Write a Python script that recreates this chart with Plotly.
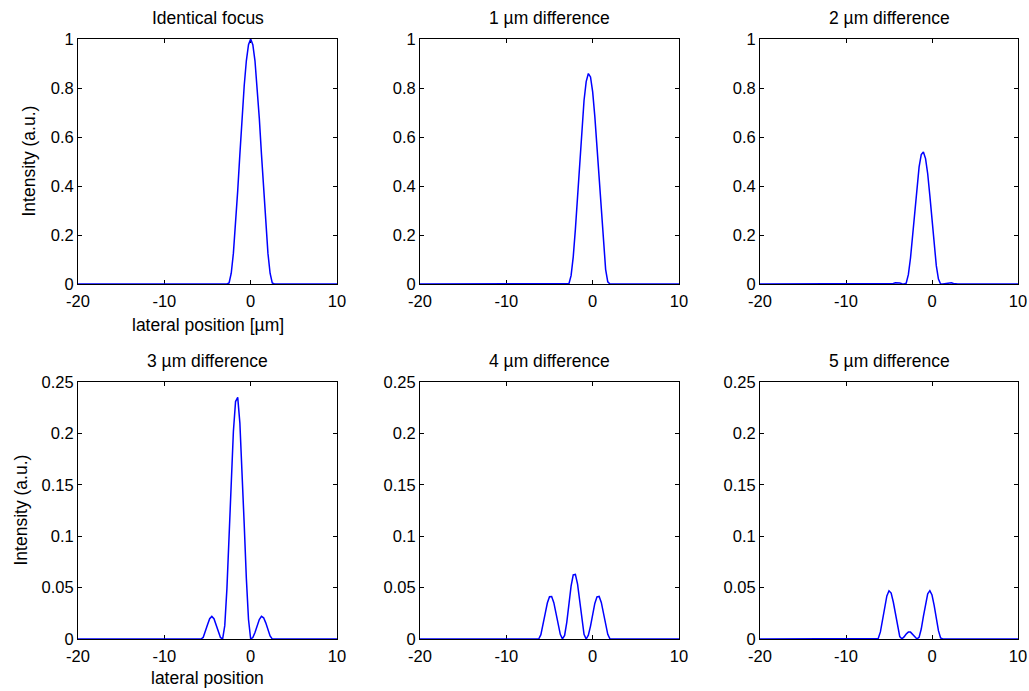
import plotly.graph_objects as go

# lateral position grid [µm]
x_pos = [-20, -7, -6.75, -6.5, -6.25, -6, -5.75, -5.5, -5.25, -5, -4.75, -4.5, -4.25, -4,
         -3.75, -3.5, -3.25, -3, -2.75, -2.5, -2.25, -2, -1.75, -1.5, -1.25, -1, -0.75,
         -0.5, -0.25, 0, 0.25, 0.5, 0.75, 1, 1.25, 1.5, 1.75, 2, 2.25, 2.5, 2.75, 3, 10]

y_identical = [0,
    0, 0, 0, 0, 0, 0, 0, 0, 0, 0, 0, 0, 0, 0, 0, 0, 0,
    0, 0.004, 0.044, 0.126, 0.241, 0.381, 0.530, 0.677, 0.808, 0.911, 0.977, 1.0,
    0.977, 0.911, 0.808, 0.677, 0.530, 0.381, 0.241, 0.126, 0.044, 0.004, 0, 0,
    0]

y_1um = [0,
    0, 0, 0, 0, 0, 0, 0, 0, 0, 0, 0, 0, 0, 0, 0, 0, 0,
    0.001, 0.034, 0.111, 0.224, 0.359, 0.502, 0.636, 0.749, 0.826, 0.859, 0.845, 0.784,
    0.684, 0.557, 0.415, 0.277, 0.153, 0.060, 0.009, 0, 0, 0, 0, 0,
    0]

y_2um = [0,
    0, 0, 0, 0, 0, 0, 0, 0, 0, 0,
    0.002, 0.005, 0.006, 0.004, 0.001, 0,
    0.003, 0.038, 0.106, 0.199, 0.301, 0.400, 0.478, 0.528, 0.539, 0.512, 0.450, 0.361,
    0.259, 0.160, 0.075, 0.020,
    0, 0, 0.001, 0.004, 0.006, 0.005, 0.002, 0, 0,
    0]

y_3um = [0,
    0, 0, 0, 0, 0, 0,
    0.0015, 0.0068, 0.0138, 0.0197, 0.022, 0.0197, 0.0138, 0.0068, 0.0015,
    0,
    0.013, 0.049, 0.101, 0.156, 0.202, 0.231, 0.235, 0.210, 0.166, 0.112, 0.059, 0.019,
    0,
    0.0014, 0.0063, 0.0131, 0.019, 0.022, 0.0206, 0.0157, 0.0089, 0.003,
    0, 0, 0,
    0]

y_4um = [0,
    0, 0, 0, 0,
    0.0042, 0.0133, 0.0247, 0.035, 0.0411, 0.0413, 0.0353, 0.0252, 0.0137, 0.0045, 0.0001,
    0.0035, 0.0162, 0.0343, 0.0515, 0.0623, 0.0629, 0.0533, 0.0365, 0.0183, 0.0046,
    0,
    0.0037, 0.0126, 0.024, 0.0346, 0.041, 0.0414, 0.0356, 0.0254, 0.0139, 0.0045, 0.0001,
    0, 0, 0, 0,
    0]

y_5um = [0,
    0, 0, 0,
    0.0006, 0.0069, 0.0183, 0.0313, 0.0419, 0.0469, 0.0447, 0.036, 0.0235, 0.011, 0.0023,
    0.0002, 0.002, 0.0048, 0.0067, 0.0067, 0.0047, 0.0019, 0.0001,
    0.0017, 0.0097, 0.022, 0.0346, 0.044, 0.047, 0.0428, 0.0328, 0.0198, 0.0081, 0.001,
    0, 0, 0, 0, 0, 0, 0, 0,
    0]

titles = ["Identical focus", "1 µm difference", "2 µm difference",
          "3 µm difference", "4 µm difference", "5 µm difference"]
series = [y_identical, y_1um, y_2um, y_3um, y_4um, y_5um]
y_ranges = [[0, 1], [0, 1], [0, 1], [0, 0.25], [0, 0.25], [0, 0.25]]
y_ticks = [[0, 0.2, 0.4, 0.6, 0.8, 1]] * 3 + [[0, 0.05, 0.1, 0.15, 0.2, 0.25]] * 3
y_ticktext = [["0", "0.2", "0.4", "0.6", "0.8", "1"]] * 3 + \
             [["0", "0.05", "0.1", "0.15", "0.2", "0.25"]] * 3
x_ticks = [-20, -10, 0, 10]
x_ticktext = ["-20", "-10", "0", "10"]

W, H = 1029, 691
col_px = [(78, 337), (420, 679), (760, 1018)]
row_px = [(39, 284), (382, 639)]

FONT = "Liberation Sans, Arial, sans-serif"
TICK_SIZE = 16.5
TEXT_SIZE = 17.5
fig = go.Figure()
annotations = []
for i in range(6):
    r, c = divmod(i, 3)
    n = "" if i == 0 else str(i + 1)
    xa, ya = "x" + n, "y" + n
    fig.add_trace(go.Scatter(x=x_pos, y=series[i], mode="lines",
                             line=dict(color="#0000ff", width=1.5),
                             xaxis=xa, yaxis=ya, showlegend=False,
                             hoverinfo="skip"))
    x0, x1 = col_px[c]
    y0, y1 = row_px[r]
    common = dict(showline=True, linecolor="black", linewidth=1, mirror="ticks",
                  ticks="inside", ticklen=4, tickcolor="black", showgrid=False,
                  zeroline=False, layer="below traces", automargin=False,
                  tickfont=dict(family=FONT, size=TICK_SIZE, color="black"))
    fig.update_layout(**{
        ("xaxis" + n): dict(domain=[x0 / W, x1 / W], anchor=ya, range=[-20, 10],
                            tickvals=x_ticks, ticktext=x_ticktext,
                            ticklabelstandoff=2, **common),
        ("yaxis" + n): dict(domain=[1 - y1 / H, 1 - y0 / H], anchor=xa,
                            range=y_ranges[i], tickvals=y_ticks[i],
                            ticktext=y_ticktext[i], **common),
    })
    annotations.append(dict(text=titles[i], xref="paper", yref="paper",
                            x=(x0 + x1) / 2 / W, y=1 - (y0 - 21) / H,
                            xanchor="center", yanchor="middle", showarrow=False,
                            font=dict(family=FONT, size=TEXT_SIZE, color="black")))

annotations.append(dict(text="lateral position [µm]", xref="paper", yref="paper",
                        x=(78 + 337) / 2 / W, y=1 - 325 / H, xanchor="center",
                        yanchor="middle", showarrow=False,
                        font=dict(family=FONT, size=TEXT_SIZE, color="black")))
annotations.append(dict(text="lateral position", xref="paper", yref="paper",
                        x=(78 + 337) / 2 / W, y=1 - 678 / H, xanchor="center",
                        yanchor="middle", showarrow=False,
                        font=dict(family=FONT, size=TEXT_SIZE, color="black")))
annotations.append(dict(text="Intensity (a.u.)", xref="paper", yref="paper",
                        x=28 / W, y=1 - (39 + 284) / 2 / H, xanchor="center",
                        yanchor="middle", textangle=-90, showarrow=False,
                        font=dict(family=FONT, size=TEXT_SIZE, color="black")))
annotations.append(dict(text="Intensity (a.u.)", xref="paper", yref="paper",
                        x=20 / W, y=1 - (382 + 639) / 2 / H, xanchor="center",
                        yanchor="middle", textangle=-90, showarrow=False,
                        font=dict(family=FONT, size=TEXT_SIZE, color="black")))

fig.update_layout(width=W, height=H, margin=dict(l=0, r=0, t=0, b=0),
                  paper_bgcolor="white", plot_bgcolor="white",
                  annotations=annotations)
fig.write_html("out.html", config={"displayModeBar": False},
               post_script="document.body.style.margin='0';"
                           "document.body.style.overflow='hidden';")
